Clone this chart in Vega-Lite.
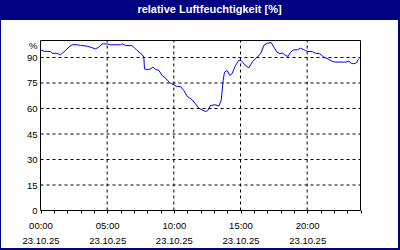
{
  "$schema": "https://vega.github.io/schema/vega-lite/v6.json",
  "background": "#000080",
  "padding": {"left": 1, "top": 0, "right": 2, "bottom": 2},
  "spacing": 0,
  "config": {
    "view": {"stroke": null},
    "font": "Liberation Sans",
    "concat": {"spacing": 0},
    "axis": {
      "grid": false, "domain": false, "title": null,
      "labelOverlap": false, "labelFlush": false, "labelBound": false,
      "labelFont": "Liberation Sans", "labelFontSize": 9.5, "labelColor": "black",
      "tickColor": "black", "tickWidth": 1
    },
    "axisX": {"ticks": true, "tickSize": 3, "labelPadding": 7, "labelLineHeight": 15, "labelBaseline": "top"},
    "axisY": {"ticks": false, "tickSize": 0, "labelPadding": 3}
  },
  "datasets": {
    "rh": [
      {"h": 0, "v": 94.7}, {"h": 0.25, "v": 93.7}, {"h": 0.75, "v": 93.5}, {"h": 0.875, "v": 92.5},
      {"h": 1.25, "v": 92.4}, {"h": 1.5, "v": 91.6}, {"h": 1.625, "v": 92.5}, {"h": 1.875, "v": 94.1},
      {"h": 2.125, "v": 96.1}, {"h": 2.375, "v": 97.5}, {"h": 2.75, "v": 97.5}, {"h": 3.0, "v": 97.1},
      {"h": 3.5, "v": 96.7}, {"h": 3.875, "v": 95.7}, {"h": 4.125, "v": 95.1}, {"h": 4.375, "v": 96.1},
      {"h": 4.625, "v": 98.0}, {"h": 5.0, "v": 98.0}, {"h": 5.25, "v": 97.5}, {"h": 6.0, "v": 97.5},
      {"h": 6.125, "v": 98.0}, {"h": 6.375, "v": 97.1}, {"h": 6.875, "v": 96.9}, {"h": 7.0, "v": 96.1},
      {"h": 7.25, "v": 94.1}, {"h": 7.5, "v": 92.5}, {"h": 7.625, "v": 91.8}, {"h": 7.75, "v": 90.2},
      {"h": 7.8, "v": 83.3}, {"h": 8.0, "v": 82.8}, {"h": 8.25, "v": 83.3}, {"h": 8.45, "v": 84.3},
      {"h": 8.625, "v": 83.0}, {"h": 8.875, "v": 82.4}, {"h": 9.125, "v": 79.4}, {"h": 9.425, "v": 77.5},
      {"h": 9.7, "v": 75.1}, {"h": 9.95, "v": 74.1}, {"h": 10.25, "v": 72.9}, {"h": 10.5, "v": 72.9},
      {"h": 10.75, "v": 70.6}, {"h": 11.0, "v": 67.2}, {"h": 11.375, "v": 65.1}, {"h": 11.625, "v": 62.7},
      {"h": 11.875, "v": 60.2}, {"h": 12.125, "v": 59.2}, {"h": 12.375, "v": 58.2}, {"h": 12.55, "v": 58.8},
      {"h": 12.75, "v": 61.8}, {"h": 13.125, "v": 62.2}, {"h": 13.375, "v": 61.4}, {"h": 13.55, "v": 64.7},
      {"h": 13.7, "v": 76.5}, {"h": 13.8, "v": 81.4}, {"h": 14.0, "v": 82.4}, {"h": 14.2, "v": 79.4},
      {"h": 14.375, "v": 80.6}, {"h": 14.625, "v": 85.3}, {"h": 14.875, "v": 88.4}, {"h": 15.05, "v": 88.2},
      {"h": 15.3, "v": 85.9}, {"h": 15.625, "v": 83.9}, {"h": 15.875, "v": 87.3}, {"h": 16.25, "v": 90.2},
      {"h": 16.5, "v": 92.2}, {"h": 16.75, "v": 97.1}, {"h": 17.0, "v": 98.4}, {"h": 17.3, "v": 98.8},
      {"h": 17.5, "v": 96.1}, {"h": 17.75, "v": 93.1}, {"h": 17.95, "v": 92.2}, {"h": 18.125, "v": 92.7},
      {"h": 18.375, "v": 91.2}, {"h": 18.575, "v": 90.6}, {"h": 18.75, "v": 93.1}, {"h": 19.0, "v": 94.5},
      {"h": 19.25, "v": 94.5}, {"h": 19.5, "v": 95.5}, {"h": 19.7, "v": 94.7}, {"h": 19.875, "v": 94.1},
      {"h": 20.05, "v": 93.5}, {"h": 20.375, "v": 93.5}, {"h": 20.625, "v": 92.5}, {"h": 20.95, "v": 92.2},
      {"h": 21.25, "v": 90.2}, {"h": 21.55, "v": 89.2}, {"h": 21.875, "v": 87.8}, {"h": 22.125, "v": 87.3},
      {"h": 22.875, "v": 87.3}, {"h": 23.125, "v": 87.8}, {"h": 23.3, "v": 86.6}, {"h": 23.5, "v": 86.3},
      {"h": 23.7, "v": 86.9}, {"h": 23.8, "v": 88.6}, {"h": 23.9, "v": 89.2}
    ],
    "hgrid": [{"gv": 15}, {"gv": 30}, {"gv": 45}, {"gv": 60}, {"gv": 75}, {"gv": 90}],
    "vgrid": [{"gh": 5}, {"gh": 10}, {"gh": 15}, {"gh": 20}],
    "frame": [{"h0": 0, "h1": 24, "v0": 0, "v1": 100}],
    "title": [{"t": "relative Luftfeuchtigkeit [%]"}]
  },
  "vconcat": [
    {
      "width": 397,
      "height": 20,
      "data": {"name": "title"},
      "mark": {"type": "text", "color": "white", "font": "Liberation Sans", "fontSize": 11, "fontWeight": "bold", "baseline": "alphabetic", "align": "center", "dx": 10, "dy": 3},
      "encoding": {"text": {"field": "t", "type": "nominal"}}
    },
    {
      "width": 397,
      "height": 228,
      "view": {"fill": "white", "stroke": null},
      "resolve": {"axis": {"x": "independent", "y": "independent"}},
      "layer": [
        {
          "data": {"name": "rh"},
          "mark": {"type": "line", "color": "#0000ff", "strokeWidth": 1, "interpolate": "linear"},
          "encoding": {
            "x": {
              "field": "h", "type": "quantitative",
              "scale": {"domain": [-2.9625, 26.8125], "nice": false, "zero": false},
              "axis": {
                "orient": "bottom", "offset": -38, "labelOverlap": false,
                "values": [0,1,2,3,4,5,6,7,8,9,10,11,12,13,14,15,16,17,18,19,20,21,22,23,24],
                "labelExpr": "datum.value % 5 == 0 && datum.value < 24 ? [(datum.value < 10 ? '0' : '') + datum.value + ':00', '23.10.25'] : ''"
              }
            },
            "y": {
              "field": "v", "type": "quantitative",
              "scale": {"domain": [-22.0588, 112.0588], "nice": false, "zero": false},
              "axis": {
                "orient": "left", "offset": -39, "labelOverlap": false,
                "values": [0, 15, 30, 45, 60, 75, 90, 100],
                "labelExpr": "datum.value == 100 ? '%' : datum.label",
                "labelBaseline": {"condition": {"test": "datum.value == 100", "value": "top"}, "value": "middle"}
              }
            }
          }
        },
        {
          "data": {"name": "hgrid"},
          "mark": {"type": "rule", "color": "black", "strokeWidth": 1, "strokeDash": [3, 3]},
          "encoding": {
            "y": {"field": "gv", "type": "quantitative", "axis": null},
            "x": {"datum": 0, "type": "quantitative", "axis": null},
            "x2": {"datum": 24}
          }
        },
        {
          "data": {"name": "vgrid"},
          "mark": {"type": "rule", "color": "black", "strokeWidth": 1, "strokeDash": [3, 3]},
          "encoding": {
            "x": {"field": "gh", "type": "quantitative", "axis": null},
            "y": {"datum": 0, "type": "quantitative", "axis": null},
            "y2": {"datum": 100}
          }
        },
        {
          "data": {"name": "frame"},
          "mark": {"type": "rect", "fill": null, "fillOpacity": 0, "stroke": "black", "strokeWidth": 1},
          "encoding": {
            "x": {"field": "h0", "type": "quantitative", "axis": null},
            "x2": {"field": "h1"},
            "y": {"field": "v0", "type": "quantitative", "axis": null},
            "y2": {"field": "v1"}
          }
        }
      ]
    }
  ]
}
